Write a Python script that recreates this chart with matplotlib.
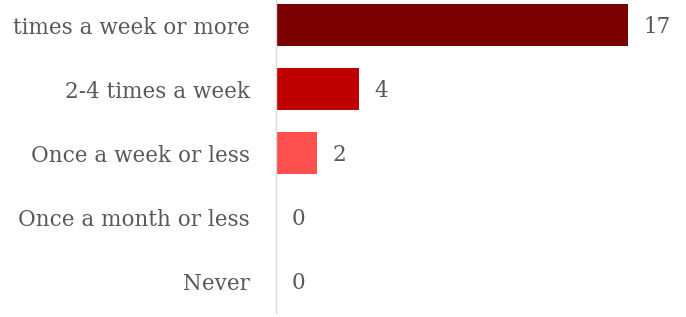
import matplotlib
matplotlib.use("Agg")
import matplotlib.pyplot as plt

categories = ["times a week or more", "2-4 times a week", "Once a week or less",
              "Once a month or less", "Never"]
values = [17, 4, 2, 0, 0]
colors = ["#7B0000", "#C00000", "#FF5050", "#FF5050", "#FF5050"]

plt.rcParams["font.family"] = ["DejaVu Serif"]

fig = plt.figure(figsize=(6.86, 3.17), dpi=100)
ax = fig.add_axes([276 / 686, 4 / 317, 393 / 686, 320 / 317])

y = list(range(len(categories)))
ax.barh(y, values, height=0.66, color=colors)
ax.set_ylim(len(categories) - 0.5, -0.5)
ax.set_xlim(0, 19)

text_col = "#595959"
for yi, v in zip(y, values):
    ax.text(v + 0.75, yi + 0.03, str(v), va="center", ha="left", fontsize=15.5, color=text_col)

ax.set_yticks(y)
ax.set_yticklabels(categories, fontsize=15.5, color=text_col)
ax.tick_params(axis="y", length=0, pad=19)
ax.set_xticks([])
for side in ["top", "right", "bottom"]:
    ax.spines[side].set_visible(False)
ax.spines["left"].set_color("#D9D9D9")
ax.spines["left"].set_linewidth(1.0)

fig.savefig("out.png", dpi=100)
